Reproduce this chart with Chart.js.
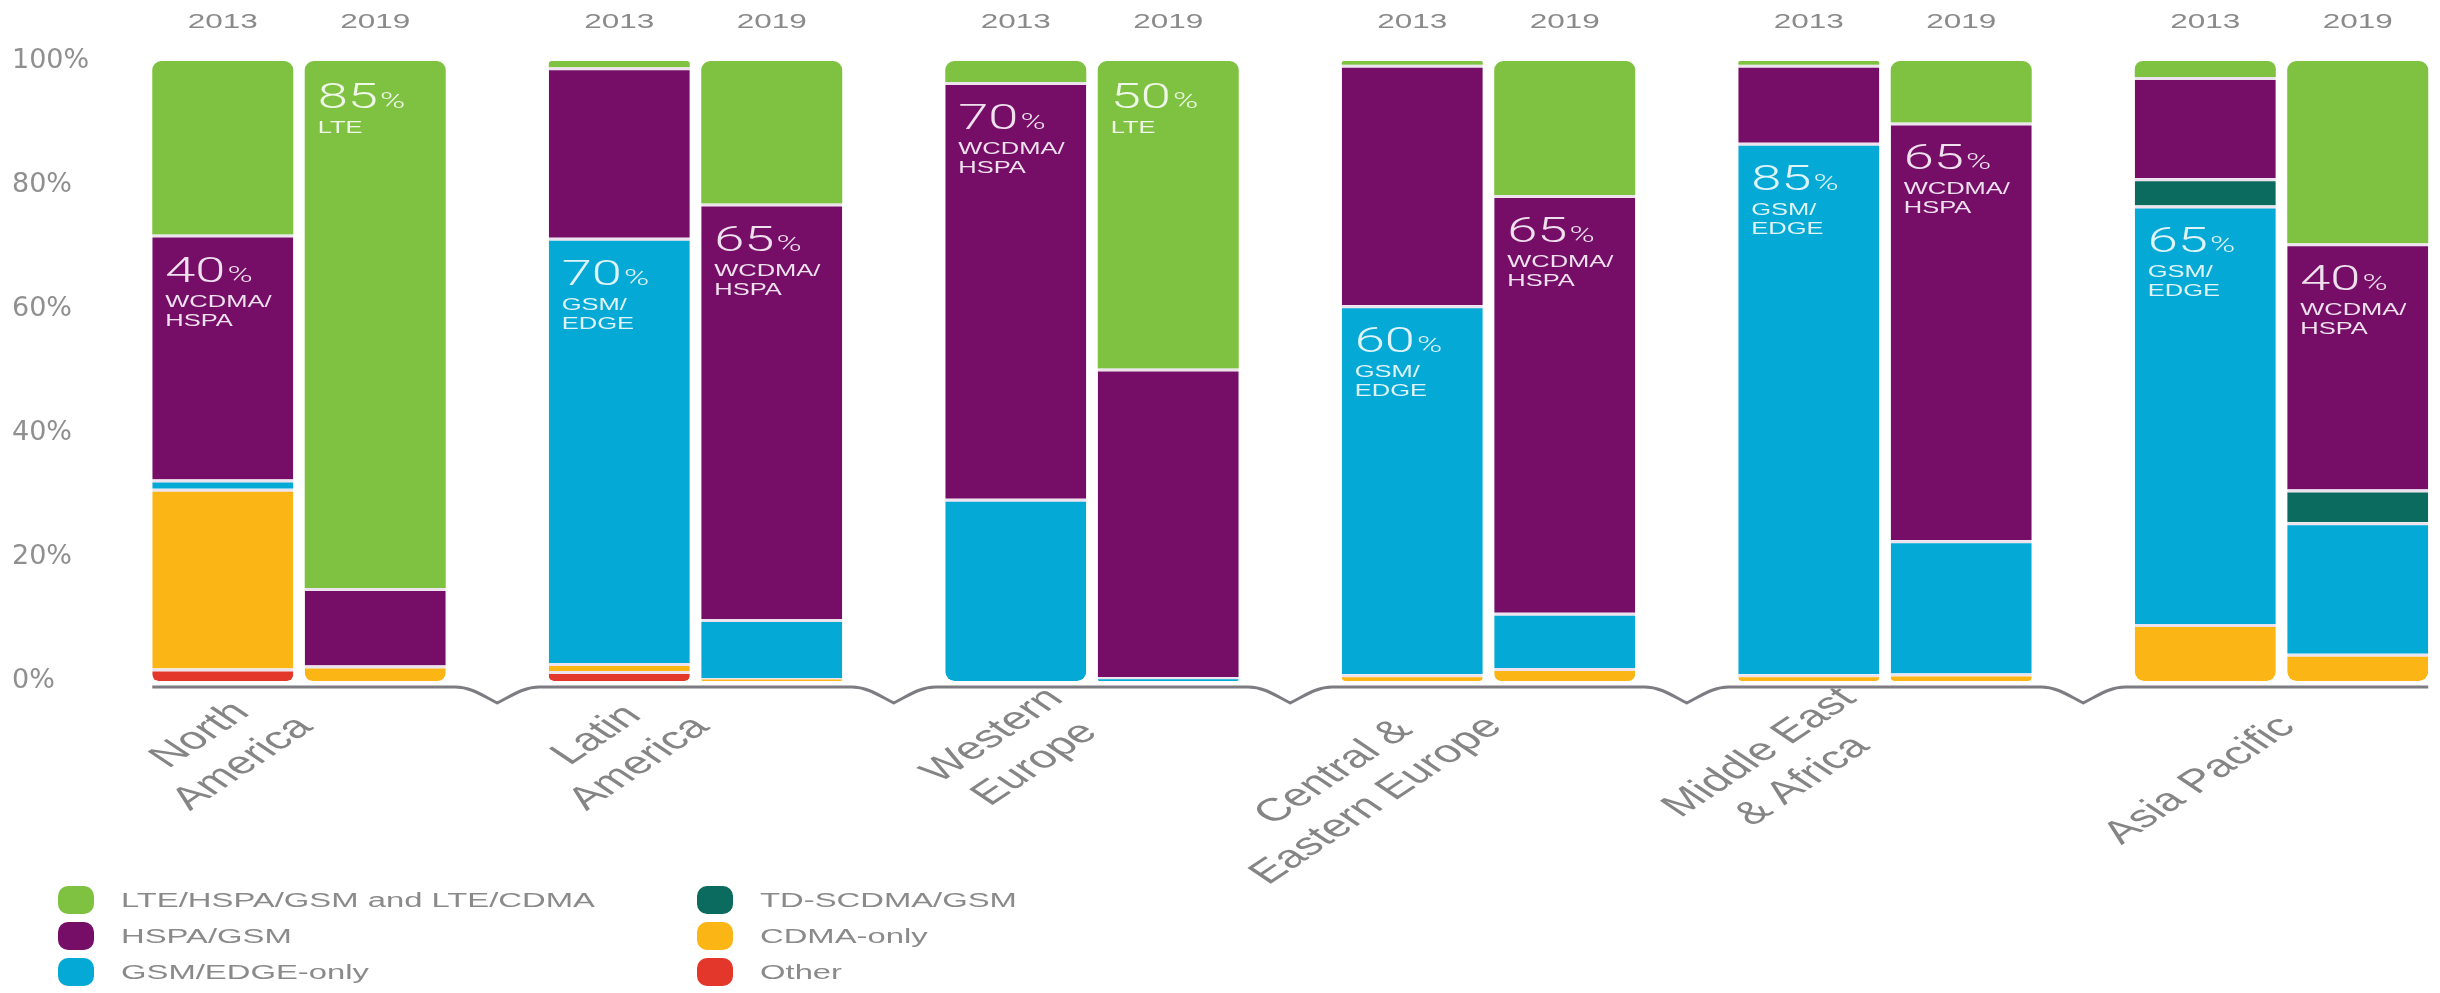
<!DOCTYPE html>
<html>
<head>
<meta charset="utf-8">
<script src="https://cdn.jsdelivr.net/npm/chart.js@4.4.1/dist/chart.umd.min.js"></script>
<style>
  html, body { margin: 0; padding: 0; background: #fff; }
  #wrap { position: relative; width: 2440px; height: 993px; }
  #legend {
    position: absolute; left: 58px; top: 882px;
    display: grid; grid-auto-flow: column;
    grid-template-rows: repeat(3, 36px);
    grid-template-columns: 639px 500px;
  }
  .item { display: flex; align-items: center; }
  .swatch { width: 36px; height: 28px; border-radius: 10px; margin-right: 27px; flex: none; }
  .item span {
    font: 20px "Liberation Sans", Arial, sans-serif; color: #8a8a8a;
    display: inline-block; transform: scaleX(1.64); transform-origin: left center; white-space: nowrap;
  }
</style>
</head>
<body>
<div id="wrap">
  <canvas id="chart" width="2440" height="993"></canvas>
  <div id="legend"></div>
</div>
<script>
const regions = [["North", "America"], ["Latin", "America"], ["Western", "Europe"],
                 ["Central &", "Eastern Europe"], ["Middle East", "& Africa"], ["Asia Pacific"]];
const years = ["2013", "2019"];
const yTicks = [0, 20, 40, 60, 80, 100];

// stacking order, bottom to top
const seriesNames = ["Other", "CDMA-only", "GSM/EDGE-only", "TD-SCDMA/GSM", "HSPA/GSM", "LTE/HSPA/GSM and LTE/CDMA"];
const seriesColors = ["#e2372a", "#fbb515", "#04a9d5", "#0b6b5f", "#760e68", "#7fc242"];
const legendOrder = [5, 4, 2, 3, 1, 0];

// share of connections (%), one value per region
const other2013 = [2, 1.6, 0, 0, 0, 0];
const cdma2013 = [29, 1.3, 0, 1.1, 1.1, 9.2];
const gsm2013 = [1.5, 68.6, 29.4, 59.5, 85.7, 67.5];
const tdscdma2013 = [0, 0, 0, 0, 0, 4.4];
const hspa2013 = [39.5, 27.5, 67.2, 38.8, 12.6, 16.3];
const lte2013 = [28, 1, 3.4, 0.6, 0.6, 2.6];

const other2019 = [0, 0, 0, 0, 0, 0];
const cdma2019 = [2.5, 0.5, 0, 2.1, 1.2, 4.4];
const gsm2019 = [0, 9.5, 0.6, 8.9, 21.5, 21.2];
const tdscdma2019 = [0, 0, 0, 0, 0, 5.3];
const hspa2019 = [12.5, 67, 49.8, 67.4, 67.4, 39.7];
const lte2019 = [85, 23, 49.6, 21.6, 9.9, 29.4];

const values2013 = [other2013, cdma2013, gsm2013, tdscdma2013, hspa2013, lte2013];
const values2019 = [other2019, cdma2019, gsm2019, tdscdma2019, hspa2019, lte2019];

// callouts written inside the bars
const notePct2013 = ["40", "70", "70", "60", "85", "65"];
const noteText2013 = [["WCDMA/", "HSPA"], ["GSM/", "EDGE"], ["WCDMA/", "HSPA"], ["GSM/", "EDGE"], ["GSM/", "EDGE"], ["GSM/", "EDGE"]];
const noteSeries2013 = [4, 2, 4, 2, 2, 2];
const notePct2019 = ["85", "65", "50", "65", "65", "40"];
const noteText2019 = [["LTE"], ["WCDMA/", "HSPA"], ["LTE"], ["WCDMA/", "HSPA"], ["WCDMA/", "HSPA"], ["WCDMA/", "HSPA"]];
const noteSeries2019 = [5, 4, 5, 4, 4, 4];

const SX = 1.5; // the source artwork is stretched sideways

function stackEnds(ctx) {
    const i = ctx.dataIndex;
    const sets = ctx.chart.data.datasets;
    const stack = sets[ctx.datasetIndex].stack;
    const idx = [];
    sets.forEach((d, k) => { if (d.stack === stack && d.data[i] > 0) idx.push(k); });
    return { bottom: idx[0], top: idx[idx.length - 1] };
}

function barRadius(ctx) {
    if (ctx.dataIndex === undefined) return 0;
    const e = stackEnds(ctx);
    const t = ctx.datasetIndex === e.top ? 9 : 0;
    const b = ctx.datasetIndex === e.bottom ? 9 : 0;
    return { topLeft: t, topRight: t, bottomLeft: b, bottomRight: b };
}

function barBorder(ctx) {
    if (ctx.dataIndex === undefined) return 0;
    const top = ctx.datasetIndex === stackEnds(ctx).top ? 0 : 3;
    return { top: top, right: 0, bottom: 0, left: 0 };
}

const datasets = [];
[values2013, values2019].forEach((vals, y) => {
    vals.forEach((data, s) => {
        datasets.push({
            label: seriesNames[s],
            stack: years[y],
            data: data,
            backgroundColor: seriesColors[s],
            borderColor: "#ece3ee",
            borderWidth: barBorder,
            borderRadius: barRadius,
            borderSkipped: false,
            inflateAmount: 0,
            clip: false
        });
    });
});

function wideText(c, text, x, y, font, color, sx) {
    c.save();
    c.font = font;
    c.fillStyle = color;
    c.textAlign = "left";
    c.textBaseline = "alphabetic";
    c.translate(x, y);
    c.scale(sx, 1);
    c.fillText(text, 0, 0);
    const w = c.measureText(text).width * sx;
    c.restore();
    return w;
}

const decorations = {
    id: "decorations",
    afterDatasetsDraw(chart) {
        const c = chart.ctx;
        const xs = chart.scales.x, ys = chart.scales.y;

        // bracket line under the groups
        const y0 = ys.getPixelForValue(0) + 6;
        const first = chart.getDatasetMeta(0).data[0];
        const last = chart.getDatasetMeta(datasets.length - 1).data[regions.length - 1];
        c.save();
        c.beginPath();
        c.moveTo(first.x - first.width / 2, y0);
        for (let i = 0; i < regions.length - 1; i++) {
            const m = (xs.getPixelForValue(i) + xs.getPixelForValue(i + 1)) / 2;
            c.lineTo(m - 42, y0);
            c.bezierCurveTo(m - 26, y0, m - 14, y0 + 9, m, y0 + 16);
            c.bezierCurveTo(m + 14, y0 + 9, m + 26, y0, m + 42, y0);
        }
        c.lineTo(last.x + last.width / 2, y0);
        c.strokeStyle = "#7c7c82";
        c.lineWidth = 3;
        c.lineJoin = "round";
        c.stroke();
        c.restore();

        // year labels above bars
        years.forEach((yr, y) => {
            const meta = chart.getDatasetMeta(y * seriesNames.length);
            meta.data.forEach(el => {
                c.save();
                c.font = '21px "Liberation Sans", Arial';
                const w = c.measureText(yr).width * 1.5;
                c.restore();
                wideText(c, yr, el.x - w / 2, 28, '21px "Liberation Sans", Arial', "#8a8a8a", 1.5);
            });
        });

        // callouts inside bars
        const notes = [[notePct2013, noteText2013, noteSeries2013], [notePct2019, noteText2019, noteSeries2019]];
        notes.forEach(([pcts, texts, series], y) => {
            pcts.forEach((pct, i) => {
                const el = chart.getDatasetMeta(y * seriesNames.length + series[i]).data[i];
                const left = el.x - el.width / 2 + 13;
                const top = el.y;
                const col = "rgba(255,255,255,0.88)";
                const w = wideText(c, pct, left, top + 47, '300 35px Roboto, "DejaVu Sans"', col, 1.55);
                wideText(c, "%", left + w + 2, top + 47, '300 22px Roboto, "DejaVu Sans"', col, 1.55);
                texts[i].forEach((t, k) => {
                    wideText(c, t, left, top + 72 + k * 19, '17px "Liberation Sans", Arial', col, SX);
                });
            });
        });

        // rotated region names
        regions.forEach((lines, i) => {
            const cx = xs.getPixelForValue(i);
            c.save();
            c.font = '32px "Liberation Sans", Arial';
            c.fillStyle = "#858585";
            c.textAlign = "center";
            c.textBaseline = "middle";
            c.translate(cx + 6, 722);
            c.scale(SX, 1);
            c.rotate(-Math.PI / 4);
            const wMax = Math.max(...lines.map(t => c.measureText(t).width));
            lines.forEach((t, k) => {
                c.fillText(t, -wMax / 2, (k - (lines.length - 1)) * 40);
            });
            c.restore();
        });
    }
};

new Chart(document.getElementById("chart"), {
    type: "bar",
    data: { labels: regions, datasets: datasets },
    options: {
        responsive: false,
        animation: false,
        layout: { padding: { left: 12, top: 61, right: 158.5, bottom: 312 } },
        scales: {
            x: { stacked: true, display: false, offset: false },
            y: {
                stacked: true,
                min: 0,
                max: 100,
                border: { display: false },
                grid: { display: false },
                afterBuildTicks: s => { s.ticks = yTicks.map(v => ({ value: v })); },
                afterFit: s => { s.width = 287; },
                ticks: {
                    crossAlign: "far",
                    padding: 0,
                    color: "#8f8f8f",
                    font: { family: "DejaVu Sans", size: 27 },
                    callback: v => v + "%"
                }
            }
        },
        datasets: { bar: { categoryPercentage: 0.769, barPercentage: 0.925 } },
        plugins: {
            legend: { display: false },
            tooltip: { enabled: false }
        }
    },
    plugins: [decorations]
});

const legend = document.getElementById("legend");
legendOrder.forEach(s => {
    const item = document.createElement("div");
    item.className = "item";
    item.innerHTML = '<div class="swatch" style="background:' + seriesColors[s] + '"></div><span>' +
        seriesNames[s] + "</span>";
    legend.appendChild(item);
});
</script>
</body>
</html>
